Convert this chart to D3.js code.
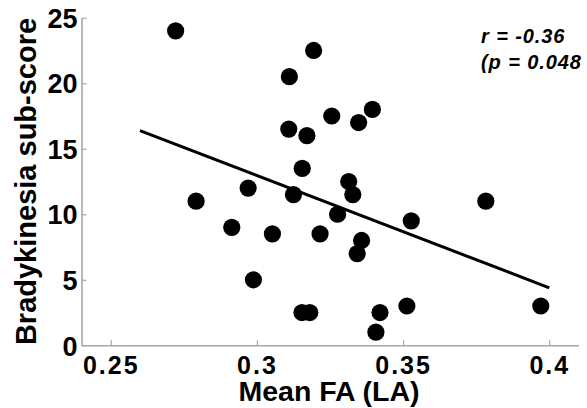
<!DOCTYPE html>
<html>
<head>
<meta charset="utf-8">
<script src="https://cdn.jsdelivr.net/npm/d3@7"></script>
<style>
  html, body { margin: 0; padding: 0; background: #fff; }
  svg { display: block; font-family: "Liberation Sans", Arial, Helvetica, sans-serif; }
</style>
</head>
<body>
<svg id="chart" width="587" height="408"></svg>
<script>
// Mean fractional anisotropy (LA) per subject
const meanFA = [
  0.2722, 0.2792, 0.2914, 0.2970, 0.2988, 0.3053, 0.3111, 0.3109, 0.3125, 0.3155,
  0.3154, 0.3181, 0.3171, 0.3194, 0.3216, 0.3256, 0.3276, 0.3314, 0.3328, 0.3348,
  0.3343, 0.3358, 0.3395, 0.3407, 0.3421, 0.3513, 0.3528, 0.3783, 0.3971
];
// Bradykinesia sub-score per subject
const bradykinesia = [
  24, 11, 9, 12, 5, 8.5, 20.5, 16.5, 11.5, 13.5,
  2.5, 2.5, 16, 22.5, 8.5, 17.5, 10, 12.5, 11.5, 17,
  7, 8, 18, 1, 2.5, 3, 9.5, 11, 3
];
const xTicks = [0.25, 0.3, 0.35, 0.4];
const yTicks = [0, 5, 10, 15, 20, 25];
const fitRange = [0.26, 0.40];
const statLines = ["r = -0.36", "(p = 0.048"];

const svg = d3.select("#chart");
const x = d3.scaleLinear().domain([0.24, 0.41]).range([81.5, 578.5]);
const y = d3.scaleLinear().domain([0, 25]).range([345.3, 17.7]);

const axisColor = "#a8a6ad";

// axes: MATLAB-style inward ticks, no box
const gx = svg.append("g").attr("transform", `translate(0,${y(0)})`)
  .call(d3.axisBottom(x).tickValues(xTicks).tickSizeInner(-5).tickSizeOuter(0).tickFormat(d3.format("")));
gx.select(".domain").attr("stroke", axisColor).attr("stroke-width", 1.6);
gx.selectAll(".tick line").attr("stroke", axisColor).attr("stroke-width", 1.2);
gx.selectAll(".tick text")
  .attr("y", 0).attr("dy", 29)
  .attr("fill", "#000").attr("font-size", 25).attr("font-weight", "bold")
  .attr("letter-spacing", 2)
  .attr("font-family", "Liberation Sans, Arial, sans-serif");

const gy = svg.append("g").attr("transform", `translate(${x.range()[0]},0)`)
  .call(d3.axisLeft(y).tickValues(yTicks).tickSizeInner(-5).tickSizeOuter(0));
gy.select(".domain").attr("stroke", axisColor).attr("stroke-width", 1.6);
gy.selectAll(".tick line").attr("stroke", axisColor).attr("stroke-width", 1.2);
gy.selectAll(".tick text")
  .attr("x", -4).attr("dy", "0.36em")
  .attr("fill", "#000").attr("font-size", 27).attr("font-weight", "bold")
  .attr("font-family", "Liberation Sans, Arial, sans-serif");

// least-squares fit line
const n = meanFA.length;
const mx = d3.mean(meanFA), my = d3.mean(bradykinesia);
let sxy = 0, sxx = 0;
for (let i = 0; i < n; i++) {
  sxy += (meanFA[i] - mx) * (bradykinesia[i] - my);
  sxx += (meanFA[i] - mx) ** 2;
}
const slope = sxy / sxx, intercept = my - slope * mx;
svg.append("line")
  .attr("x1", x(fitRange[0])).attr("y1", y(intercept + slope * fitRange[0]))
  .attr("x2", x(fitRange[1])).attr("y2", y(intercept + slope * fitRange[1]))
  .attr("stroke", "#000").attr("stroke-width", 3);

// subjects
svg.append("g").selectAll("circle")
  .data(d3.zip(meanFA, bradykinesia))
  .join("circle")
  .attr("cx", d => x(d[0])).attr("cy", d => y(d[1]))
  .attr("r", 8.6).attr("fill", "#000");

// axis titles
svg.append("text")
  .attr("x", 329).attr("y", 401)
  .attr("text-anchor", "middle")
  .attr("font-size", 28.5).attr("font-weight", "bold")
  .text("Mean FA (LA)");

svg.append("text")
  .attr("transform", `translate(36,${(18 + 345) / 2}) rotate(-90)`)
  .attr("text-anchor", "middle")
  .attr("font-size", 29).attr("font-weight", "bold")
  .text("Bradykinesia sub-score");

// correlation statistics
svg.append("g").selectAll("text")
  .data(statLines)
  .join("text")
  .attr("x", 481).attr("y", (d, i) => 42.5 + i * 26)
  .attr("font-size", 20).attr("font-weight", "bold").attr("font-style", "italic")
  .attr("letter-spacing", 0.9)
  .text(d => d);
</script>
</body>
</html>
